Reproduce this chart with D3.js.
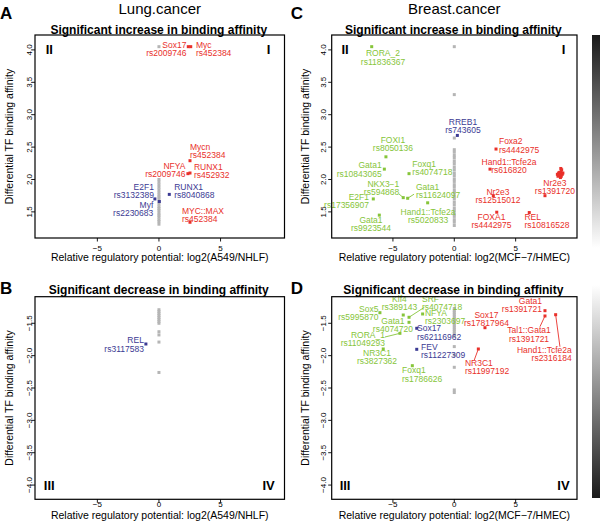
<!DOCTYPE html>
<html><head><meta charset="utf-8">
<script src="https://cdn.jsdelivr.net/npm/d3@7"></script>
<style>body{margin:0;background:#fff} svg{font-family:"Liberation Sans",Arial,Helvetica,sans-serif}</style>
</head><body><svg id="c" width="600" height="523"></svg>
<script>
// ---------------- DATA ----------------
const cancers = ["Lung.cancer", "Breast.cancer"];
const cellRatios = ["log2(A549/NHLF)", "log2(MCF\u22127/HMEC)"];
const rowTitles = ["Significant increase in binding affinity", "Significant decrease in binding affinity"];
const panelLetters = ["A", "C", "B", "D"];
const xTicks = [-5, 0, 5];
const yTicksUp = [1.5, 2.0, 2.5, 3.0, 3.5, 4.0];
const yTicksDown = [-4.0, -3.5, -3.0, -2.5, -2.0, -1.5];

// [TF, SNP, log2 ratio, differential affinity, colour group]
const lungUpPoints = [
  ["Sox17", "rs2009746", 2.38, 4.05, "red"],
  ["Myc", "rs452384", 2.58, 4.05, "red"],
  ["Mycn", "rs452384", 2.52, 2.29, "red"],
  ["NFYA", "rs2009746", 2.35, 2.09, "red"],
  ["RUNX1", "rs452932", 2.52, 2.10, "red"],
  ["MYC::MAX", "rs452384", 2.52, 1.34, "red"],
  ["E2F1", "rs3132389", -0.33, 1.70, "blue"],
  ["Myf", "rs2230683", 0.03, 1.66, "blue"],
  ["RUNX1", "rs8040868", 0.84, 1.77, "blue"]
];
const lungUpGray = [4.05, 2.00, 1.96, 1.92, 1.88, 1.84, 1.80, 1.76, 1.73, 1.70, 1.66, 1.62, 1.58, 1.55, 1.52, 1.48, 1.45, 1.42, 1.38, 1.35, 1.31];

const lungDownPoints = [
  ["REL", "rs3117583", -1.06, -1.82, "blue"]
];
const lungDownGray = [-1.29, -1.32, -1.35, -1.38, -1.41, -1.44, -1.47, -1.50, -1.63, -1.68, -1.79, -2.26];

const breastUpPoints = [
  ["RORA_2", "rs11836367", -6.73, 4.05, "green"],
  ["FOXI1", "rs8050136", -5.57, 2.35, "green"],
  ["Gata1", "rs10843065", -5.70, 2.16, "green"],
  ["Foxq1", "rs4074718", -3.69, 2.09, "green"],
  ["NKX3\u22121", "rs594868", -4.16, 1.72, "green"],
  ["Gata1", "rs11624097", -3.80, 1.71, "green"],
  ["E2F1", "rs17356907", -6.60, 1.70, "green"],
  ["Hand1::Tcfe2a", "rs5020833", -2.17, 1.64, "green"],
  ["Gata1", "rs9923544", -6.11, 1.45, "green"],
  ["RREB1", "rs743605", 0.25, 2.68, "blue"],
  ["Foxa2", "rs4442975", 3.40, 2.47, "red"],
  ["Hand1::Tcfe2a", "rs616820", 2.91, 2.16, "red"],
  ["Nr2e3", "rs12515012", 3.18, 1.75, "red"],
  ["FOXA1", "rs4442975", 3.46, 1.495, "red"],
  ["REL", "rs10816528", 6.11, 1.49, "red"],
  ["Nr2e3", "rs1391720", 7.39, 1.75, "red"]
];
// unlabelled red cluster (Nr2e3 rs1391720 group)
const breastUpClusterX = [8.40, 8.50, 8.55, 8.62, 8.70, 8.75, 8.72, 8.80, 8.65, 8.58, 8.85, 8.45, 8.68, 8.60];
const breastUpClusterY = [2.08, 2.10, 2.06, 2.09, 2.12, 2.15, 2.05, 2.08, 2.03, 2.11, 2.10, 2.05, 2.17, 2.07];
const breastUpGray = [4.05, 3.31, 2.64, 2.46, 2.42, 2.37, 2.33, 2.28, 2.24, 2.19, 2.15, 2.10, 2.06, 2.01, 1.97, 1.92, 1.88, 1.83, 1.79, 1.74, 1.70, 1.65, 1.61, 1.56, 1.52, 1.47, 1.43, 1.38, 1.34, 1.29];

const breastDownPoints = [
  ["Sox5", "rs5995870", -6.06, -1.336, "green"],
  ["Klf4", "rs389143", -4.16, -1.372, "green"],
  ["SRF", "rs4074718", -3.69, -1.407, "green"],
  ["Gata1", "rs4074720", -3.69, -1.485, "green"],
  ["NFYA", "rs2303697", -2.58, -1.356, "green"],
  ["RORA_1", "rs11049293", -4.43, -1.655, "green"],
  ["NR3C1", "rs3827362", -5.79, -1.897, "green"],
  ["Foxq1", "rs1786626", -3.42, -2.155, "green"],
  ["Sox17", "rs62116962", -3.06, -1.577, "blue"],
  ["FEV", "rs11227309", -3.06, -1.902, "blue"],
  ["Sox17", "rs17817964", 2.50, -1.568, "red"],
  ["NR3C1", "rs11997192", 1.96, -1.897, "red"],
  ["Gata1", "rs1391721", 7.39, -1.305, "red"],
  ["Tal1::Gata1", "rs1391721", 7.39, -1.387, "red"],
  ["Hand1::Tcfe2a", "rs2316184", 8.26, -1.367, "red"]
];
const breastDownGray = [-1.27, -1.30, -1.33, -1.36, -1.39, -1.42, -1.45, -1.48, -1.51, -1.54, -1.57, -1.60, -1.63, -1.66, -1.70, -1.86, -1.99, -2.18, -2.53, -2.57];

// ---------------- LABEL PLACEMENT (data units: label x, label y, anchor, optional leader end x,y) ----------------
const lungUpLabelPos = [
  [2.23, 4.02, "end"], [3.0, 4.02, "start"], [2.52, 2.444, "start"], [2.15, 2.143, "end"],
  [2.84, 2.13, "start"], [1.87, 1.454, "start"], [-0.41, 1.82, "end"], [-0.46, 1.55, "end"],
  [1.24, 1.824, "start"]
];
const lungDownLabelPos = [[-1.22, -1.828, "end"]];
const breastUpLabelPos = [
  [-5.81, 3.884, "middle"], [-5.0, 2.545, "middle"], [-5.92, 2.153, "end"], [-3.42, 2.176, "start"],
  [-4.48, 1.87, "end", -4.51, 1.778], [-3.12, 1.824, "start", -3.28, 1.773], [-6.95, 1.673, "end"],
  [-2.14, 1.433, "middle"], [-6.79, 1.315, "middle"], [0.71, 2.82, "middle"], [3.64, 2.526, "start"],
  [4.46, 2.207, "middle"], [3.56, 1.742, "middle"], [3.03, 1.361, "middle"], [5.72, 1.357, "start"],
  [8.2, 1.883, "middle"]
];
const breastDownLabelPos = [
  [-6.18, -1.338, "end"], [-4.47, -1.186, "middle"], [-2.63, -1.182, "start", -2.44, -1.253],
  [-5.0, -1.529, "middle"], [-2.39, -1.398, "start"], [-5.65, -1.746, "end", -5.65, -1.712],
  [-6.30, -2.021, "middle"], [-4.26, -2.291, "start"], [-3.04, -1.642, "start"], [-2.71, -1.925, "start"],
  [2.62, -1.437, "middle"], [0.87, -2.178, "start", 1.63, -2.067], [7.15, -1.217, "end"],
  [6.09, -1.673, "middle", 6.98, -1.553], [9.57, -1.978, "end", 8.61, -1.862]
];
const quadrantLabels = [["II", -8.9, "I", 8.9], ["III", -8.9, "IV", 8.9]];

// ---------------- STYLE ----------------
const colors = { red: "#e9302a", green: "#86c53a", blue: "#3b3a93", gray: "#b5b5b5" };

const svg = d3.select("#c");

// colour bar
const defs = svg.append("defs");
const grad = defs.append("linearGradient").attr("id", "cb").attr("x1", 0).attr("x2", 0).attr("y1", 0).attr("y2", 1);
[[0, "#1a1a1a"], [0.46, "#ffffff"], [0.54, "#ffffff"], [1, "#1a1a1a"]].forEach(s =>
  grad.append("stop").attr("offset", s[0]).attr("stop-color", s[1]));
svg.append("rect").attr("x", 592).attr("y", 35).attr("width", 9).attr("height", 463).attr("fill", "url(#cb)");

const cols = [
  { left: 35, right: 284.5, xdom: [-10.06, 10.19], ylabX: 9, tickLabX: 29 },
  { left: 331.7, right: 577, xdom: [-9.99, 10.0], ylabX: 305, tickLabX: 323.5 }
];
const rows = [
  { top: 35, bottom: 238, ydom: [1.097, 4.23], ticks: yTicksUp, titleY: 34, xTickLabY: 250.5, xLabY: 261, letterY: 18.5, quadY: 4.0 },
  { top: 296.7, bottom: 499.3, ydom: [-4.22, -1.089], ticks: yTicksDown, titleY: 293.5, xTickLabY: 507, xLabY: 518.5, letterY: 294, quadY: -4.0 }
];

const panels = [
  { c: 0, r: 0, pts: lungUpPoints, lab: lungUpLabelPos, gray: lungUpGray, letter: panelLetters[0] },
  { c: 1, r: 0, pts: breastUpPoints, lab: breastUpLabelPos, gray: breastUpGray, letter: panelLetters[1], clusterX: breastUpClusterX, clusterY: breastUpClusterY },
  { c: 0, r: 1, pts: lungDownPoints, lab: lungDownLabelPos, gray: lungDownGray, letter: panelLetters[2] },
  { c: 1, r: 1, pts: breastDownPoints, lab: breastDownLabelPos, gray: breastDownGray, letter: panelLetters[3] }
];

const fmtY = d3.format(".1f");
const fmtX = d3.format("d");

panels.forEach(p => {
  const C = cols[p.c], R = rows[p.r];
  const x = d3.scaleLinear().domain(C.xdom).range([C.left, C.right]);
  const y = d3.scaleLinear().domain(R.ydom).range([R.bottom, R.top]);
  const g = svg.append("g");
  const sz = 3;

  // gray column
  g.selectAll("rect.gray").data(p.gray).join("rect").attr("class", "gray")
    .attr("x", x(0) - sz / 2).attr("y", d => y(d) - sz / 2).attr("width", sz).attr("height", sz)
    .attr("fill", colors.gray);

  // leader lines
  p.pts.forEach((d, i) => {
    const L = p.lab[i];
    if (L.length > 3) {
      g.append("line").attr("x1", x(d[2])).attr("y1", y(d[3])).attr("x2", x(L[3])).attr("y2", y(L[4]))
        .attr("stroke", colors[d[4]]).attr("stroke-width", 0.9);
    }
  });

  // cluster
  if (p.clusterX) {
    g.selectAll("rect.cl").data(p.clusterX).join("rect").attr("class", "cl")
      .attr("x", (d) => x(d) - sz / 2).attr("y", (d, i) => y(p.clusterY[i]) - sz / 2)
      .attr("width", sz).attr("height", sz).attr("fill", colors.red);
  }

  // points
  g.selectAll("rect.pt").data(p.pts).join("rect").attr("class", "pt")
    .attr("x", d => x(d[2]) - sz / 2).attr("y", d => y(d[3]) - sz / 2).attr("width", sz).attr("height", sz)
    .attr("fill", d => colors[d[4]]);

  // labels
  p.pts.forEach((d, i) => {
    const L = p.lab[i];
    const cx = x(L[0]), cy = y(L[1]);
    const t = g.append("text").attr("text-anchor", L[2]).attr("font-size", 8.5).attr("fill", colors[d[4]]);
    t.append("tspan").attr("x", cx).attr("y", cy - 4.1 + 3).text(d[0]);
    t.append("tspan").attr("x", cx).attr("y", cy + 4.1 + 3).text(d[1]);
  });

  // quadrant labels
  const q = quadrantLabels[p.r];
  g.append("text").attr("x", x(q[1])).attr("y", y(R.quadY) + 4.5).attr("text-anchor", "middle")
    .attr("font-size", 13).attr("font-weight", "bold").text(q[0]);
  g.append("text").attr("x", x(q[3])).attr("y", y(R.quadY) + 4.5).attr("text-anchor", "middle")
    .attr("font-size", 13).attr("font-weight", "bold").text(q[2]);

  // frame
  g.append("rect").attr("x", C.left).attr("y", R.top).attr("width", C.right - C.left).attr("height", R.bottom - R.top)
    .attr("fill", "none").attr("stroke", "#000").attr("stroke-width", 1.2);

  // x ticks
  xTicks.forEach(v => {
    g.append("line").attr("x1", x(v)).attr("x2", x(v)).attr("y1", R.bottom).attr("y2", R.bottom + 3.5).attr("stroke", "#000").attr("stroke-width", 0.9);
    g.append("text").attr("x", x(v)).attr("y", R.xTickLabY).attr("text-anchor", "middle").attr("font-size", 8).text(fmtX(v));
  });
  // y ticks
  R.ticks.forEach(v => {
    g.append("line").attr("x1", C.left).attr("x2", C.left - 3.5).attr("y1", y(v)).attr("y2", y(v)).attr("stroke", "#000").attr("stroke-width", 0.9);
    g.append("text").attr("transform", `translate(${C.tickLabX + 2.9},${y(v)}) rotate(-90)`)
      .attr("text-anchor", "middle").attr("font-size", 8).text(fmtY(v));
  });

  // axis labels
  g.append("text").attr("x", (C.left + C.right) / 2).attr("y", R.xLabY).attr("text-anchor", "middle")
    .attr("font-size", 10.5).text("Relative regulatory potential: " + cellRatios[p.c]);
  g.append("text").attr("transform", `translate(${C.ylabX + 3.7},${(R.top + R.bottom) / 2}) rotate(-90)`)
    .attr("text-anchor", "middle").attr("font-size", 10.5).text("Differential TF binding affinity");

  // row title
  g.append("text").attr("x", (C.left + C.right) / 2 - 1).attr("y", R.titleY).attr("text-anchor", "middle")
    .attr("font-size", 12).attr("font-weight", "bold").text(rowTitles[p.r]);

  // panel letter
  g.append("text").attr("x", C.left - 35 + (p.c ? -6 : 0)).attr("y", R.letterY).attr("font-size", 17)
    .attr("font-weight", "bold").text(p.letter);
});

// column titles
cols.forEach((C, i) => {
  svg.append("text").attr("x", (C.left + C.right) / 2).attr("y", 13.5).attr("text-anchor", "middle")
    .attr("font-size", 15).text(cancers[i]);
});
</script>
</body></html>
